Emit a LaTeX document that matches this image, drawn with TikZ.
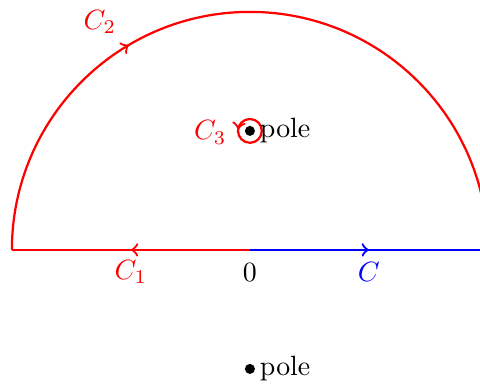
\documentclass[tikz,border=0pt]{standalone}
\usetikzlibrary{decorations.markings,positioning}
\tikzset{
  midarrow/.style={postaction={decorate},decoration={markings,mark=at position #1 with {\arrow{>}}}},
  pathline/.style={thick}
}
\begin{document}
\begin{tikzpicture}[every node/.style={font=\normalsize}]
\useasboundingbox (-3.15,-1.74) rectangle (2.9,3.15);
\coordinate (o) at (0,0);
\coordinate (a) at (-3,0);
\coordinate (b) at (3,0);
\coordinate (p1) at (0,1.5);
\coordinate (p2) at (0,-1.5);
\draw[pathline,red,midarrow=0.33] (a) arc (180:0:3);
\draw[pathline,red,midarrow=0.5] (o)--(a);
\draw[pathline,blue,midarrow=0.5] (o)--(b);
\draw[pathline,red,midarrow=0.48] (0.15,1.5) arc (0:360:0.15);
\fill (p1) circle (1.8pt);
\fill (p2) circle (1.8pt);
\node[anchor=west,inner sep=0pt] (n1) at (0.12,1.5) {pole};
\node[anchor=west,inner sep=0pt] (n2) at (0.12,-1.5) {pole};
\node[red] (c1) at (-1.5,-0.28) {$C_1$};
\node (zero) at (0,-0.28) {$0$};
\node[blue] (c) at (1.5,-0.28) {$C$};
\node[red] (c2) at (-1.89,2.87) {$C_2$};
\node[red] (c3) at (-0.5,1.48) {$C_3$};
\end{tikzpicture}
\end{document}
